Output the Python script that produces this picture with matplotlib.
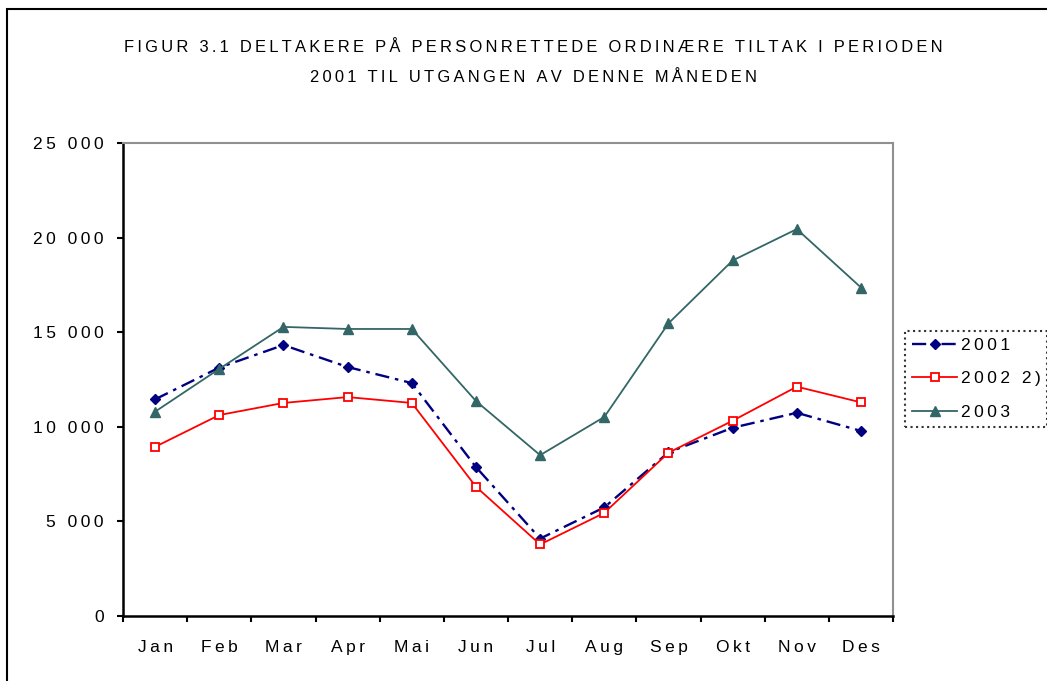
import matplotlib.pyplot as plt
import numpy as np
from matplotlib.patches import Rectangle

plt.rcParams['font.family'] = ['Liberation Sans', 'DejaVu Sans']

maaneder = ["Jan", "Feb", "Mar", "Apr", "Mai", "Jun", "Jul", "Aug", "Sep", "Okt", "Nov", "Des"]
v2001 = [11450, 13130, 14320, 13160, 12310, 7870, 4090, 5740, 8650, 9950, 10740, 9780]
v2002 = [8940, 10620, 11260, 11570, 11260, 6830, 3780, 5450, 8630, 10320, 12120, 11290]
v2003 = [10800, 13060, 15280, 15170, 15170, 11360, 8500, 10520, 15470, 18790, 20450, 17360]
yticks = [0, 5000, 10000, 15000, 20000, 25000]
ytick_labels = ["0", "5 000", "10 000", "15 000", "20 000", "25 000"]

tittel1 = "FIGUR 3.1 DELTAKERE PÅ PERSONRETTEDE ORDINÆRE TILTAK I PERIODEN"
tittel2 = "2001 TIL UTGANGEN AV DENNE MÅNEDEN"


# bokstavavstand som i originalen
def sperret(s):
    return "\u2009".join(s)


fig = plt.figure(figsize=(10.47, 6.81), dpi=100)
ax = fig.add_axes([0.1175, 0.0955, 0.7355, 0.6945])

x = np.arange(len(maaneder)) + 0.5
ax.plot(x, v2001, color='#000080', linestyle=(0, (6, 2.5, 1.5, 2.5)), linewidth=1.7,
        marker='D', markersize=5, label=sperret("2001"))
ax.plot(x, v2002, color='red', linestyle='-', linewidth=1.3,
        marker='s', markersize=6, markerfacecolor='white', markeredgecolor='red',
        markeredgewidth=1.3, label=sperret("2002 2)"))
ax.plot(x, v2003, color='#336666', linestyle='-', linewidth=1.3,
        marker='^', markersize=7, label=sperret("2003"))

ax.set_xlim(0, 12)
ax.set_ylim(0, 25000)
ax.set_yticks(yticks)
ax.set_yticklabels([sperret(t) for t in ytick_labels], fontsize=12.5)
ax.set_xticks(np.arange(13))
ax.set_xticklabels([])
ax.set_xticks(x, minor=True)
ax.set_xticklabels([sperret(m) for m in maaneder], minor=True, fontsize=12.5)
ax.tick_params(axis='x', which='minor', length=0, pad=17)
ax.tick_params(axis='x', which='major', length=4, width=1.5, direction='out')
ax.tick_params(axis='y', length=4, width=1.5, pad=10)

for side in ['top', 'right']:
    ax.spines[side].set_color('#909090')
    ax.spines[side].set_linewidth(1.5)
for side in ['left', 'bottom']:
    ax.spines[side].set_color('black')
    ax.spines[side].set_linewidth(1.8)

fig.text(0.5095, 1 - 48 / 681, sperret(tittel1), ha='center', va='center', fontsize=11.9)
fig.text(0.5095, 1 - 77 / 681, sperret(tittel2), ha='center', va='center', fontsize=11.9)

leg = ax.legend(loc='upper left', bbox_to_anchor=(905 / 1047, 1 - 331 / 681),
                bbox_transform=fig.transFigure, fancybox=False, fontsize=12.5,
                handlelength=2.6, borderaxespad=0, borderpad=0.4, labelspacing=1.05,
                handletextpad=0.2)
leg.get_frame().set_edgecolor('black')
leg.get_frame().set_linestyle(':')
leg.get_frame().set_linewidth(1.5)

# ramme rundt figuren
fig.patches.append(Rectangle((7 / 1047, -0.1), 1.2, 1 - 9 / 681 + 0.1,
                             transform=fig.transFigure, fill=False,
                             edgecolor='black', linewidth=1.5))

fig.savefig("out.png", dpi=100)
